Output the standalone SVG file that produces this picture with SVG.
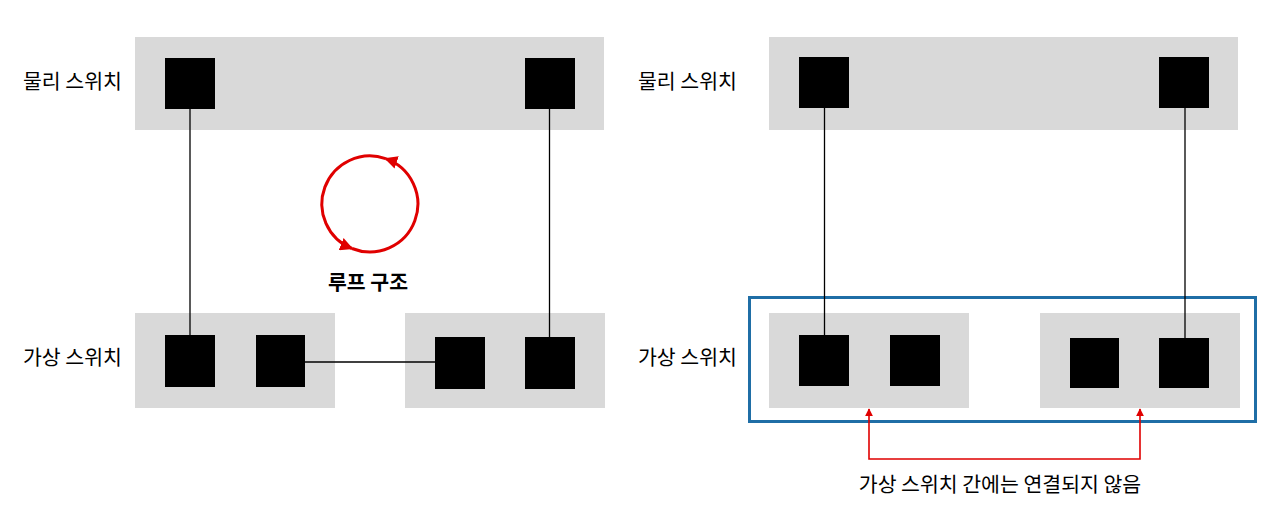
<svg xmlns="http://www.w3.org/2000/svg" width="1280" height="527" viewBox="0 0 1280 527">
<style>
.bg{fill:#d9d9d9}
.sw{fill:#000}
.lbl{font-family:"Noto Sans CJK KR","Noto Sans",sans-serif;font-size:20.5px;fill:#000}
.ln{stroke:#000;stroke-width:1.3;fill:none}
.red{stroke:#e00000;fill:none}
</style>
<defs>
<marker id="ah" viewBox="0 0 10 10" refX="9" refY="5" markerWidth="13" markerHeight="13" markerUnits="userSpaceOnUse" orient="auto-start-reverse">
<path d="M0,0 L10,5 L0,10 z" fill="#e00000"/>
</marker>
<marker id="ahs" viewBox="0 0 10 10" refX="9" refY="5" markerWidth="8" markerHeight="8" markerUnits="userSpaceOnUse" orient="auto-start-reverse">
<path d="M0,0 L10,5 L0,10 z" fill="#e00000"/>
</marker>
</defs>
<rect width="1280" height="527" fill="#fff"/>

<!-- Left panel -->
<g id="left-physical">
<rect class="bg" x="135" y="37" width="469" height="93"/>
<rect class="sw" x="165" y="58" width="50" height="51"/>
<rect class="sw" x="525" y="58" width="50" height="51"/>
<text class="lbl" x="23" y="89">물리 스위치</text>
</g>
<g id="left-virtual-1">
<rect class="bg" x="135" y="313" width="200" height="95"/>
<rect class="sw" x="165" y="335" width="50" height="52"/>
<rect class="sw" x="256" y="335" width="49" height="52"/>
</g>
<g id="left-virtual-2">
<rect class="bg" x="405" y="313" width="200" height="95"/>
<rect class="sw" x="435" y="337" width="50" height="52"/>
<rect class="sw" x="525" y="337" width="50" height="52"/>
</g>
<text class="lbl" x="23" y="365">가상 스위치</text>
<g id="loop">
<path class="red" stroke-width="3" d="M352,248.5 A48,48 0 1 0 385.6,158.6" marker-end="url(#ah)"/>
<path class="red" stroke-width="3" d="M385.6,158.6 A48,48 0 0 0 352,248.5" marker-end="url(#ah)"/>
<text class="lbl" x="368" y="290" text-anchor="middle" font-weight="bold" font-size="21">루프 구조</text>
</g>

<!-- Right panel -->
<g id="right-physical">
<rect class="bg" x="769" y="37" width="469" height="93"/>
<rect class="sw" x="799" y="57" width="50" height="51"/>
<rect class="sw" x="1159" y="57" width="50" height="51"/>
<text class="lbl" x="638" y="89">물리 스위치</text>
</g>
<g id="right-virtual-group">
<rect x="749.5" y="297.5" width="506" height="124" fill="none" stroke="#1f6ea6" stroke-width="3"/>
</g>
<g id="right-virtual-1">
<rect class="bg" x="769" y="313" width="200" height="95"/>
<rect class="sw" x="799" y="335" width="50" height="51"/>
<rect class="sw" x="890" y="335" width="50" height="51"/>
</g>
<g id="right-virtual-2">
<rect class="bg" x="1040" y="313" width="200" height="95"/>
<rect class="sw" x="1070" y="338" width="49" height="50"/>
<rect class="sw" x="1159" y="338" width="50" height="50"/>
</g>
<text class="lbl" x="638" y="365">가상 스위치</text>
<text class="lbl" x="1000" y="492" text-anchor="middle">가상 스위치 간에는 연결되지 않음</text>

<g id="connectors">
<line class="ln" x1="190" y1="109" x2="190" y2="335"/>
<line class="ln" x1="549.5" y1="109" x2="549.5" y2="337"/>
<line class="ln" x1="305" y1="362" x2="435" y2="362"/>
<line class="ln" x1="824.5" y1="108" x2="824.5" y2="335"/>
<line class="ln" x1="1185" y1="108" x2="1185" y2="338"/>
<path class="red" stroke-width="1.6" d="M869,409 V459 H1140 V409" marker-start="url(#ahs)" marker-end="url(#ahs)"/>
</g>
</svg>
